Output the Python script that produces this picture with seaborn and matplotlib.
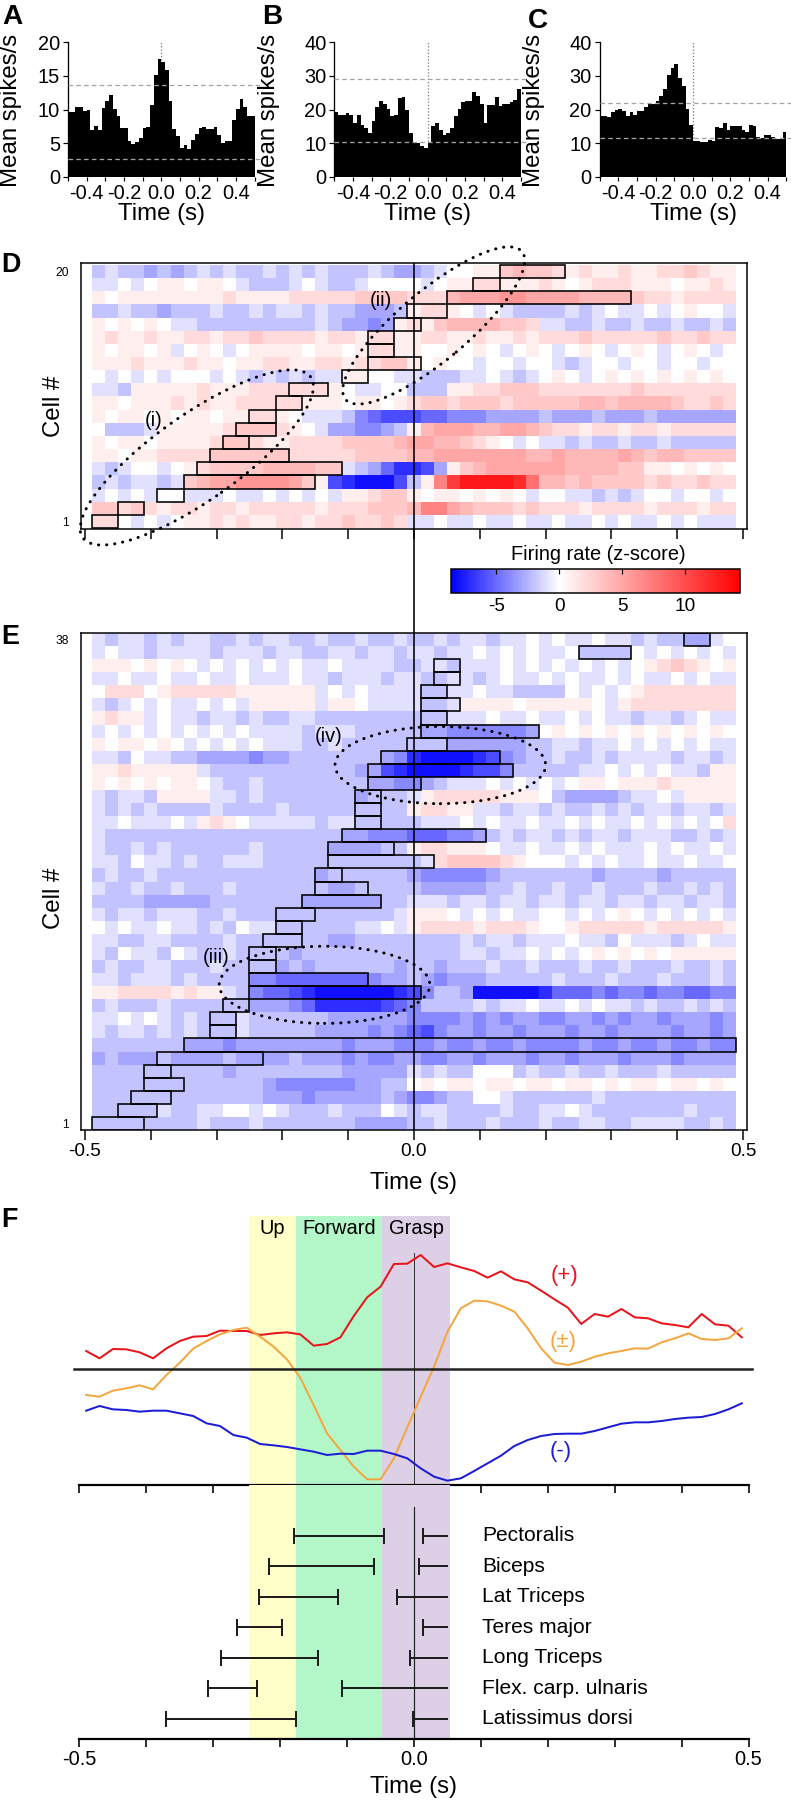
import numpy as np
import pandas as pd
import matplotlib
matplotlib.use('Agg')
import matplotlib.pyplot as plt
import seaborn as sns
from matplotlib.colors import LinearSegmentedColormap
from matplotlib.patches import Rectangle, Ellipse, ConnectionPatch


W, H = 791, 1803
DPI = 72

# ---- A-C: PSTHs, 20 ms bins between -0.5 and 0.5 s (spikes/s)
PSTH_A = [9.6, 9.7, 10.4, 10.4, 9.8, 9.9, 7.0, 7.5, 6.9, 10.2,
          11.3, 12.2, 10.1, 9.0, 7.2, 7.2, 5.4, 4.9, 5.2, 5.8,
          7.2, 7.4, 10.7, 15.1, 17.5, 17.1, 15.9, 11.3, 7.1, 6.1,
          4.3, 4.8, 4.1, 5.5, 6.3, 7.2, 7.4, 7.1, 7.1, 7.4,
          6.2, 5.0, 5.4, 5.4, 8.4, 10.1, 11.6, 10.4, 9.0, 9.0]
PSTH_B = [19.2, 18.5, 18.5, 18.9, 18.5, 16.0, 18.4, 15.5, 14.5, 13.1,
          16.7, 20.8, 22.4, 21.6, 20.2, 18.2, 18.5, 23.3, 23.6, 20.0,
          13.1, 10.5, 10.1, 9.3, 8.6, 10.5, 15.0, 16.0, 14.0, 12.5,
          13.1, 14.5, 18.0, 20.2, 22.1, 22.4, 22.4, 25.1, 23.9, 21.6,
          16.0, 21.3, 21.3, 23.6, 20.9, 21.6, 21.6, 22.1, 22.8, 26.1]
PSTH_C = [18.2, 18.2, 17.7, 19.2, 20.0, 20.2, 19.6, 18.0, 19.4, 18.4,
          19.7, 19.7, 20.7, 21.6, 21.6, 22.6, 24.1, 26.1, 30.2, 32.2,
          33.6, 29.2, 27.0, 20.2, 15.4, 10.8, 10.8, 10.5, 10.3, 11.0,
          10.8, 14.9, 14.5, 16.0, 13.8, 15.0, 15.0, 15.0, 14.0, 13.3,
          15.4, 15.2, 11.8, 11.6, 12.3, 12.5, 11.8, 11.3, 11.3, 13.3]
THR_A = [13.6, 2.7]
THR_B = [28.9, 10.5]
THR_C = [22.0, 11.5]

# ---- D/E: z-scored firing, 20 ms bins centred -0.48..0.48 s, one string per cell
# 0 = 0, 1..9/A..E = +1..+14, a..h = -1..-8
D_ROWS = [
    "220a0a0 1121211 2212232 232aa0a a0aa0aa 0aa0a0a a0a0aaa",
    "3323212 2122122 2221222 3334775 4333232 2212222 1222122",
    "a0a0a00 aaa0aa0 a0a0a11 2331011 01010a0 0aababa 00a00a0",
    "babaaba 3455666 6531fgh hhfb17B DDDDC84 4343333 2322322",
    "aba00a0 1233334 44433ab ceggfc1 3455555 5444433 1101010",
    "1101122 2233333 3222223 3334455 5555544 5444454 3443333",
    "1011011 1123321 1222233 3345544 3210a0a ababbab babbbbb",
    "0bbba11 1112333 210accd dcb1455 5445543 2212212 2122222",
    "1011010 1101122 10aaabd efffeed ddccccb cccbccc bcccccc",
    "1101112 1211222 2211101 1012332 3332333 3344344 4432232",
    "aab1111 1211122 222210a a00bbb1 1223332 2222223 2222222",
    "0a0a0a0 00a0aba babaa11 00aabbb aa0aba0 10a0101 0101010",
    "1112111 2110112 2112212 2331010 0a00a00 aba00a0 0a00a00",
    "101101a 010a011 1101101 2211001 010a010 a010a01 0a010a0",
    "1211211 2212232 2221221 2211221 1211212 2232222 2322322",
    "101010a abbbbbb bbbabcc dc12134 444332a abbabba bbabbab",
    "bbabbcb bbabbab aababbc ccb1221 0a0abbb baba0aa 0a0100a",
    "1011111 1112111 1222223 3332224 5556655 5544443 2212222",
    "aa0a011 0110abb ba0abba 0000a01 1221112 1012221 1101121",
    "babbcbc bababba bababbb abccba0 0113433 2121121 1223211",
]
D_ON = [-0.49, -0.45, -0.39, -0.35, -0.33, -0.31, -0.29, -0.27, -0.25, -0.21,
        -0.19, -0.11, -0.07, -0.07, -0.07, -0.03, -0.01, 0.05, 0.09, 0.13]
D_OFF = [-0.45, -0.41, -0.35, -0.15, -0.11, -0.19, -0.25, -0.21, -0.21, -0.17,
         -0.13, -0.07, 0.01, -0.03, -0.03, 0.01, 0.05, 0.33, 0.13, 0.23]

E_ROWS = [
    "bbbbbbb babbbab bbbbbbc cccbbab bbabbba bbaabba aaabbab",
    "bbbbbab baa00a0 abbbabb b0abaab bbbabba a0abbbb bbbabbb",
    "bbbbbbb bbbbbbc ccdcccc cbcddcb b00abbb bbbabbb bbbbbbb",
    "bbbbbbb bbbbbbc ddddddc cbb0101 1011011 0110101 1011010",
    "bbbbbbb bbbcbbb bbbbbcc cccabab b000bab babbabb babbbbb",
    "cbcccbc cccbccc cbcccdc ddccddc cdcccdc cdcccdc ccdcccc",
    "bbbbbbb cccdccc cccccdc ccdddcd dcddcdd ddcddcd dcddcdd",
    "abaabab abbbabb bbbcccc dcdefdc cdccdcc cdccdcc ccdccdc",
    "aa0a0ab abbbabb bbbbccc cccdddd cdcdccd dccdcdc cdcccdc",
    "babbbab bbbbbcc cdegggg gfedbbb babaa0a a0a0aab abbabab",
    "1122221 211abde efghhhh hhgfdbb chhhhhg eeededd eddeedd",
    "aabaaab abbbbdd eeeeeee dccbcdc ccbbbbb abbbabb babbbab",
    "babbaab bbabbbb cbcbbbb bbcbbcb bbabbab bbabbab bbabbab",
    "ab0aab0 abbabbb bcbbbbb bbbbbbb aabaa0a 0a01010 1011111",
    "aabbaab bbbabbb bbbbccb bbbbbbb abaabaa a0aab0a aaba0aa",
    "0a0aa0a abab0aa bbbbbba a0a1222 2122210 0122222 1222221",
    "abaabaa abbabbb bbbbbbb bba1110 a0a0aa0 0a0a010 a0a0a0a",
    "bbbbccc ccbbbbb bbccccc cbbaaab aabaaba abaabaa baabaab",
    "abbabba bbbabbb bbbbccb bbbbccc ccbbabb abbabbb abbabab",
    "babbabb bbbbbbb bbbcbbb bbbcddd ddcbbbb bbbcbbb bcbbbbb",
    "aab0aab abbaaab bbbbbbb bbbba23 3332100 0a0a0aa 0aa0aa0",
    "abbabab bbbbbab bbbbccc cbb1221 110aa0a a0a0aaa 0a0aa0a",
    "abbbbbb bbbbbbb bbbbbcc dddeeed dcbabaa babaaba aabbaba",
    "aa0aaa0 a1210aa aaabaab bbbbaaa 0a0aa0a a0a0aa0 a0a0a02",
    "abababb bbabbbb abbbbbb bbb1221 1aabaab abbabab aabaaba",
    "abaab11 11aabab bbbbbbc bbba122 2221110 bccccba a0a1111",
    "1010101 10abbab bbbbbbb ccddcba aa0a0a0 a011011 1211111",
    "1121111 1abbbbb bbbbbbc cfghhhh gffdbbb bbaa0a0 a0aab11",
    "aab0aab bccccdc cbbbbbb bcdghhh hgfdcbb abbabaa aabaaba",
    "1011010 a0a0a0a aabbabb bbbbbbc cccccbb aabaa0a 0a0a0aa",
    "a0a0a0a 0a0a0aa aabaaab bbbbccd dddddc0 1010101 0101010",
    "1211a0a abaabab baabbbb bbbbbba aa0aa0a a0a0aab aaba0aa",
    "aba0a0a a0a0a11 111a110 aaaabba 1111011 1110a12 2222222",
    "0222012 2222111 111a0a0 aaaabba a0aabbb b0a0a01 2222222",
    "aa0aa0a a0aa0aa a0aabaa abaabba aba0aa0 a0aa0a0 aa0a0aa",
    "1110101 0a0a0a0 a0aa0aa aabbaab aaa0a0a 0a0a0a0 1232101",
    "a0aabaa aabaaab aabbaab aabaaba a0a0a0a a0bbbb0 a0a0a0a",
    "abaabab aabbaba abbabba bbabbab aabaa0a 0aa0aab abbcca0",
]
E_ON = [-0.49, -0.45, -0.43, -0.41, -0.41, -0.39, -0.35, -0.31, -0.31, -0.29,
        -0.25, -0.25, -0.25, -0.25, -0.23, -0.21, -0.21, -0.17, -0.15, -0.15,
        -0.13, -0.13, -0.11, -0.09, -0.09, -0.09, -0.07, -0.07, -0.05, -0.01,
        0.01, 0.01, 0.01, 0.01, 0.03, 0.03, 0.25, 0.41]
E_OFF = [-0.41, -0.39, -0.37, -0.35, -0.37, -0.23, 0.49, -0.27, -0.27, -0.25,
         0.01, -0.07, -0.21, -0.21, -0.17, -0.17, -0.15, -0.05, -0.07, -0.11,
         0.03, -0.03, 0.11, -0.05, -0.05, -0.05, 0.01, 0.15, 0.13, 0.05,
         0.19, 0.05, 0.07, 0.05, 0.07, 0.07, 0.33, 0.45]

# ---- F: population traces (a.u.) and EMG bursts
F_TIME = np.round(np.arange(-0.49, 0.491, 0.02), 2)
POS = [5.5, 3.3, 6.1, 6.0, 5.1, 3.3, 6.3, 8.5, 9.8, 10.0,
       11.6, 11.5, 11.5, 10.3, 10.8, 11.1, 10.5, 7.1, 7.6, 9.6,
       16.0, 21.6, 24.8, 31.6, 31.7, 34.3, 30.7, 31.8, 30.6, 29.5,
       27.5, 29.4, 27.0, 26.1, 23.6, 21.0, 18.5, 13.6, 16.6, 15.8,
       18.1, 15.6, 15.3, 13.8, 13.3, 12.6, 16.6, 13.5, 13.1, 9.6]
MIX = [-7.7, -8.2, -6.4, -5.7, -4.8, -6.0, -1.7, 2.0, 6.2, 8.5,
       10.5, 11.8, 12.5, 9.8, 6.8, 3.0, -2.5, -10.7, -19.2, -24.2,
       -29.2, -33.0, -33.0, -26.7, -17.4, -8.2, 0.8, 11.3, 18.3, 20.6,
       20.4, 19.1, 17.3, 12.3, 6.3, 2.0, 1.3, 2.3, 3.8, 4.8,
       5.5, 6.3, 6.2, 8.1, 9.3, 10.8, 9.1, 8.8, 9.3, 12.3]
NEG = [-12.4, -11.0, -12.0, -12.2, -12.7, -12.4, -12.4, -13.2, -14.0, -16.2,
       -17.0, -19.7, -20.5, -22.4, -22.8, -23.3, -24.0, -24.7, -25.7, -25.3,
       -25.4, -24.4, -24.4, -25.4, -26.7, -29.7, -32.2, -33.4, -32.7, -30.5,
       -28.2, -25.9, -23.0, -21.2, -20.0, -19.4, -19.3, -19.3, -18.5, -17.4,
       -16.3, -15.9, -15.9, -15.5, -14.9, -14.5, -14.3, -13.4, -12.0, -10.2]

PHASES = ['Up', 'Forward', 'Grasp']
PHASE_EDGES = [-0.247, -0.176, -0.048, 0.054]
PHASE_COLORS = ['#ffffc9', '#b3f7c9', '#ddd0e6']

MUSCLES = ['Pectoralis', 'Biceps', 'Lat Triceps', 'Teres major',
           'Long Triceps', 'Flex. carp. ulnaris', 'Latissimus dorsi']
EMG1_ON = [-0.180, -0.217, -0.232, -0.264, -0.289, -0.308, -0.370]
EMG1_OFF = [-0.045, -0.060, -0.113, -0.198, -0.143, -0.235, -0.177]
EMG2_ON = [0.013, 0.008, -0.025, 0.014, -0.006, -0.107, -0.002]
EMG2_OFF = [0.051, 0.051, 0.051, 0.051, 0.051, 0.051, 0.051]


LEVELS = {'0': 0}
for i, c in enumerate('123456789ABCDE', 1):
    LEVELS[c] = i
for i, c in enumerate('abcdefgh', 1):
    LEVELS[c] = -i


def decode(rows):
    out = []
    for s in rows:
        s = s.replace(' ', '')
        if len(s) != 49:
            raise ValueError(f'bad row {s}')
        out.append([LEVELS[c] for c in s])
    return np.array(out, dtype=float)


def tlabel(v):
    s = f'{v:.1f}'
    return '0.0' if s == '-0.0' else s


plt.rcParams['font.family'] = ['Liberation Sans', 'DejaVu Sans']
plt.rcParams['axes.unicode_minus'] = False
plt.rcParams['axes.linewidth'] = 1.3

fig = plt.figure(figsize=(W / DPI, H / DPI), dpi=DPI)


def px_axes(l, t, r, b):
    return fig.add_axes([l / W, 1 - b / H, (r - l) / W, (b - t) / H])


def ftext(x, y, s, **kw):
    kw.setdefault('ha', 'center')
    kw.setdefault('va', 'center')
    fig.text(x / W, 1 - y / H, s, **kw)


# ---------------- A-C
EDGES = np.round(np.arange(-0.5, 0.5001, 0.02), 3)
CENTERS = EDGES[:-1] + 0.01


def psth(box, vals, ymax, thr, xright, letter, lx, ly, ylab_x, t0_x):
    ax = px_axes(*box)
    df = pd.DataFrame({'t': CENTERS, 'rate': vals})
    sns.histplot(data=df, x='t', weights='rate', bins=list(EDGES),
                 element='step', fill=True, color='black', alpha=1,
                 linewidth=0, ax=ax)
    for c in ax.collections:
        c.set_zorder(2)
    ax.plot([0, 0], [0, ymax], color='#808080', ls=(0, (1, 1.5)), lw=1.3,
            zorder=1)
    for y in thr:
        ax.axhline(y, color='#a3a3a3', ls=(0, (3.5, 2.5)), lw=1.3, zorder=3)
    ax.set_xlim(-0.5, xright)
    ax.set_ylim(0, ymax)
    ax.set_xlabel('')
    ax.set_ylabel('')
    for s in ['top', 'right', 'bottom']:
        ax.spines[s].set_visible(False)
    ax.set_yticks(np.linspace(0, ymax, 5))
    ax.set_yticklabels([f'{v:g}' for v in np.linspace(0, ymax, 5)])
    xt = np.round(np.arange(-0.5, 0.501, 0.1), 1)
    ax.set_xticks(xt)
    ax.set_xticklabels([tlabel(v) if round(v * 10) % 2 == 0 and abs(v) < 0.5
                        else '' for v in xt])
    ax.tick_params(axis='y', labelsize=20, length=5, width=1.2, pad=3)
    ax.tick_params(axis='x', labelsize=20, length=4, width=1.2, pad=3)
    ax.set_facecolor('none')
    ftext(lx, ly, letter, fontsize=28, fontweight='bold', ha='left', va='top')
    ftext(ylab_x, 110, 'Mean spikes/s', fontsize=24, rotation=90)
    ftext(t0_x, 214, 'Time (s)', fontsize=24)


psth((68, 42, 262, 177), PSTH_A, 20, THR_A, 0.54, 'A', 2, 4, 11, 161)
psth((334.4, 42, 528.4, 177), PSTH_B, 40, THR_B, 0.54, 'B', 262, 4, 269, 428)
psth((599.7, 42, 791, 177), PSTH_C, 40, THR_C, 0.525, 'C', 528, 8, 534, 693)

# ---------------- D/E heatmaps
VMIN, VMAX = -8.58, 14.36
CMAP = LinearSegmentedColormap.from_list(
    'zmap', [(0, '#0000ff'), (-VMIN / (VMAX - VMIN), '#ffffff'), (1, '#ff0000')])


def col(t):
    # heatmap x coordinate of a time (cells are 20 ms, first starts at -0.49 s)
    return (t + 0.49) / 0.02


def heat(box, rows, on, off, ylim, toplab):
    ax = px_axes(*box)
    z = decode(rows)
    sns.heatmap(z, cmap=CMAP, vmin=VMIN, vmax=VMAX, cbar=False,
                xticklabels=False, yticklabels=False, ax=ax)
    ax.set_xlim(-0.8, 49.8)
    ax.set_ylim(*ylim)
    for s in ax.spines.values():
        s.set_visible(True)
        s.set_linewidth(1.5)
        s.set_color('black')
    for i, (a, b) in enumerate(zip(on, off)):
        ax.add_patch(Rectangle((col(a), i), (b - a) / 0.02, 1,
                               fill=False, ec='black', lw=1.6, zorder=4))
    ax.axvline(col(0), color='black', lw=1.6, zorder=5)
    ax.set_xticks([col(t) for t in np.arange(-0.5, 0.501, 0.1)])
    ax.set_xticklabels([])
    ax.tick_params(axis='x', direction='out', length=10, width=1.5)
    ax.set_yticks([0.5, len(rows) - 0.5])
    ax.set_yticklabels(['1', toplab], fontsize=12)
    ax.tick_params(axis='y', length=0, pad=12)
    return ax


axD = heat((81, 263, 747, 529), D_ROWS, D_ON, D_OFF, (-0.08, 20.15), '20')
axE = heat((81, 633, 747, 1130), E_ROWS, E_ON, E_OFF, (0, 38), '38')

xt = axE.get_xticks()
axE.set_xticklabels(['-0.5' if i == 0 else '0.0' if i == 5 else '0.5' if i == 10
                     else '' for i in range(len(xt))], fontsize=19)
axE.tick_params(axis='x', pad=3)

dots = dict(fill=False, ec='black', lw=3, ls=(0, (0.1, 2.6)),
            capstyle='round', clip_on=False, zorder=6)
axD.add_patch(Ellipse((8.0, 5.36), 21.2, 6.5, angle=35.2, **dots))
axD.add_patch(Ellipse((26.0, 15.4), 17.5, 5.3, angle=40, **dots))
axE.add_patch(Ellipse((17.7, 11.1), 16, 5.9, **dots))
axE.add_patch(Ellipse((26.5, 27.9), 16, 5.9, **dots))
for ax, x, y, s in [(axD, 4.7, 8.2, '(i)'), (axD, 22.0, 17.3, '(ii)'),
                    (axE, 9.5, 13.2, '(iii)'), (axE, 18.0, 30.1, '(iv)')]:
    ax.text(x, y, s, fontsize=20, ha='center', va='center', zorder=7)

con = ConnectionPatch(xyA=(col(0), -0.08), coordsA=axD.transData,
                      xyB=(col(0), 38), coordsB=axE.transData,
                      color='black', lw=1.6)
fig.add_artist(con)

cax = px_axes(451, 569, 740, 593)
cb = fig.colorbar(axD.collections[0], cax=cax, orientation='horizontal',
                  ticks=[-5, 0, 5, 10])
cb.outline.set_linewidth(1.5)
cax.tick_params(labelsize=19, direction='in', length=5, width=1.2,
                top=True, bottom=False, labeltop=False, labelbottom=True, pad=5)
ftext(598, 555, 'Firing rate (z-score)', fontsize=20)

ftext(54, 406, 'Cell #', fontsize=24, rotation=90)
ftext(54, 898, 'Cell #', fontsize=24, rotation=90)
ftext(414, 1183, 'Time (s)', fontsize=24)
ftext(1, 252, 'D', fontsize=27, fontweight='bold', ha='left', va='top')
ftext(1, 624, 'E', fontsize=27, fontweight='bold', ha='left', va='top')

# ---------------- F
axL = px_axes(72.8, 1216, 755.2, 1485)
axM = px_axes(72.8, 1485, 755.2, 1739)
for ax in (axL, axM):
    for i in range(3):
        ax.axvspan(PHASE_EDGES[i], PHASE_EDGES[i + 1], color=PHASE_COLORS[i],
                   lw=0, zorder=0)
    ax.set_xlim(-0.51, 0.51)
    for s in ['top', 'right', 'left']:
        ax.spines[s].set_visible(False)
    ax.spines['bottom'].set_bounds(-0.5, 0.5)
    ax.spines['bottom'].set_linewidth(2.2)
    ax.set_yticks([])
    ax.set_xticks(np.round(np.arange(-0.5, 0.501, 0.1), 1))
    ax.tick_params(axis='x', direction='out', length=8, width=1.6)
    ax.set_facecolor('none')

for vals, c in [(POS, '#e8141c'), (MIX, '#f4a640'), (NEG, '#1c1cd6')]:
    sns.lineplot(x=F_TIME, y=vals, color=c, linewidth=2, ax=axL, zorder=3)
axL.plot([-0.508, 0.505], [0, 0], color='#222222', lw=2.5, zorder=4,
         clip_on=False)
axL.plot([0, 0], [34.8, -34.7], color='#333333', lw=1, zorder=2)
axL.set_ylim(-34.7, 46)
axL.set_xticklabels([])
axL.set_xlabel('')
axL.set_ylabel('')
axL.text(0.225, 28.3, '(+)', color='#e8141c', fontsize=22, ha='center',
         va='center')
axL.text(0.223, 8.3, '(±)', color='#f4a640', fontsize=22, ha='center',
         va='center')
axL.text(0.219, -24.7, '(-)', color='#1c1cd6', fontsize=22, ha='center',
         va='center')
for i, name in enumerate(PHASES):
    axL.text((PHASE_EDGES[i] + PHASE_EDGES[i + 1]) / 2, 42.4, name,
             fontsize=20, ha='center', va='center')

axM.set_ylim(-0.66, 7.67)
axM.plot([0, 0], [6.95, -0.66], color='#222222', lw=1.2, zorder=2)
for i, name in enumerate(MUSCLES):
    y = 6 - i
    axM.hlines(y, EMG1_ON[i], EMG1_OFF[i], color='#1e1e1e', lw=2)
    axM.vlines([EMG1_ON[i], EMG1_OFF[i]], y - 0.27, y + 0.27, color='#1e1e1e',
               lw=2)
    axM.hlines(y, EMG2_ON[i], EMG2_OFF[i], color='#1e1e1e', lw=2)
    axM.vlines(EMG2_ON[i], y - 0.27, y + 0.27, color='#1e1e1e', lw=2)
    axM.text(0.102, y, name, fontsize=21, ha='left', va='center')
xt = axM.get_xticks()
axM.set_xticklabels(['-0.5' if i == 0 else '0.0' if i == 5 else '0.5' if i == 10
                     else '' for i in range(len(xt))], fontsize=20)
axM.tick_params(axis='x', pad=3)
ftext(414, 1787, 'Time (s)', fontsize=24)
ftext(1, 1207, 'F', fontsize=27, fontweight='bold', ha='left', va='top')

fig.savefig('out.png', dpi=DPI)
